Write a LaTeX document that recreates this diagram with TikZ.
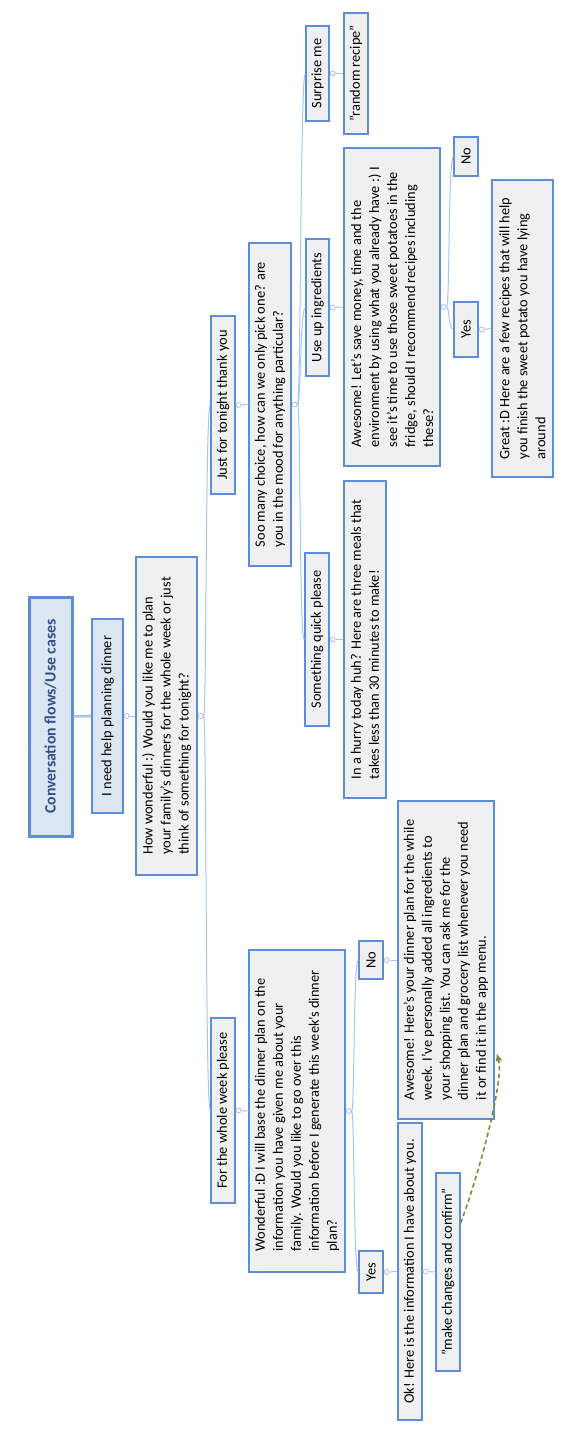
\documentclass[tikz,border=0pt]{standalone}
\usepackage{fontspec}
\setmainfont{Carlito}
\usetikzlibrary{calc,arrows.meta}
\definecolor{bordc}{RGB}{92,141,214}
\definecolor{linec}{RGB}{168,196,236}
\definecolor{grayf}{RGB}{240,240,240}
\definecolor{bluef}{RGB}{220,230,242}
\definecolor{rootc}{RGB}{49,80,135}
\definecolor{arrc}{RGB}{118,146,60}
\begin{document}
\begin{tikzpicture}[x=1pt,y=-1pt,
  box/.style={draw=bordc, line width=1.4pt, fill=grayf, rotate=90, inner sep=0pt,
    align=left, font=\fontsize{14.4}{18}\selectfont},
  bluebox/.style={box, fill=bluef},
  rootbox/.style={box, fill=bluef, line width=3pt, text=rootc,
    font=\bfseries\fontsize{15.8}{19}\selectfont},
  sz/.style 2 args={minimum width=#2, minimum height=#1},
  dot/.style={circle, draw=linec, fill=white, line width=0.8pt, inner sep=0pt, minimum size=5pt},
  conn/.style={draw=linec, line width=1pt},
  branch/.style={conn},
  backarrow/.style={draw=arrc, line width=1.6pt, dash pattern=on 4.5pt off 3pt,
    -{Latex[length=8pt,width=7pt]}}
  ]
\useasboundingbox[fill=white] (0,0) rectangle (571,1455);

% nodes (sz = horizontal extent, vertical extent in the picture)
\node[rootbox, sz={43pt}{239pt}] (root) at (50.5,716.5) {Conversation flows/Use cases};
\node[bluebox, sz={31pt}{194pt}] (need) at (107.5,716) {I need help planning dinner};
\node[box, sz={61pt}{318pt}] (wonder) at (166.5,716) {How wonderful :) Would you like me to plan\\your family's dinners for the whole week or just\\think of something for tonight?};

\node[box, sz={24pt}{178pt}] (tonight) at (223,405) {Just for tonight thank you};
\node[box, sz={42pt}{323pt}] (soo) at (270,404.5) {Soo many choice, how can we only pick one? are\\you in the mood for anything particular?};

\node[box, sz={23pt}{95pt}] (surprise) at (317.5,73.5) {Surprise me};
\node[box, sz={24pt}{121pt}] (random) at (356,73.5) {"random recipe"};
\node[box, sz={23pt}{137pt}] (useup) at (317.5,307.5) {Use up ingredients};
\node[box, sz={96pt}{318pt}] (awesA) at (392,307) {Awesome! Let's save money, time and the\\environment by using what you already have :) I\\see it's time to use those sweet potatoes in the\\fridge, should I recommend recipes including\\these?};
\node[box, sz={24pt}{39pt}] (noA) at (466,156.5) {No};
\node[box, sz={24pt}{55pt}] (yesA) at (466,329.5) {Yes};
\node[box, sz={61pt}{297pt}] (great) at (522.5,328.5) {Great :D Here are a few recipes that will help\\you finish the sweet potato you have lying\\around};
\node[box, sz={24pt}{173pt}] (quick) at (317,639.5) {Something quick please};
\node[box, sz={42pt}{317pt}] (hurry) at (365,639.5) {In a hurry today huh? Here are three meals that\\takes less than 30 minutes to make!};

\node[box, sz={24pt}{185pt}] (week) at (223,1110.5) {For the whole week please};
\node[box, sz={96pt}{322pt}] (wonderB) at (297,1111) {Wonderful :D I will base the dinner plan on the\\information you have given me about your\\family. Would you like to go over this\\information before I generate this week's dinner\\plan?};
\node[box, sz={24pt}{38pt}] (noB) at (371,960) {No};
\node[box, sz={96pt}{318pt}] (awesB) at (446,960) {Awesome! Here's your dinner plan for the while\\week. I've personally added all ingredients to\\your shopping list. You can ask me for the\\dinner plan and grocery list whenever you need\\it or find it in the app menu.};
\node[box, sz={24pt}{42pt}] (yesB) at (371,1272) {Yes};
\node[box, sz={24pt}{297pt}] (ok) at (410,1271.5) {Ok! Here is the information I have about you.};
\node[box, sz={24pt}{198pt}] (make) at (448,1272) {"make changes and confirm"};

% connectors
\draw[conn, line width=2.5pt] (root.south) -- (need.north);

\node[dot] (dneed) at ($(need.south)+(3,0)$) {};
\draw[conn] (need.south) -- (dneed) -- (wonder.north);

\node[dot] (dwonder) at ($(wonder.south)+(3,0)$) {};
\draw[conn] (wonder.south) -- (dwonder);
\draw[branch] (dwonder) .. controls +(6,0) and +(-5,0) .. (tonight.north);
\draw[branch] (dwonder) .. controls +(6,0) and +(-5,0) .. (week.north);

\node[dot] (dtonight) at ($(tonight.south)+(3,0)$) {};
\draw[conn] (tonight.south) -- (dtonight) -- (soo.north);

\node[dot] (dsoo) at ($(soo.south)+(3,0)$) {};
\draw[conn] (soo.south) -- (dsoo);
\draw[branch] (dsoo) .. controls +(6,0) and +(-5,0) .. (surprise.north);
\draw[branch] (dsoo) .. controls +(6,0) and +(-5,0) .. (useup.north);
\draw[branch] (dsoo) .. controls +(6,0) and +(-5,0) .. (quick.north);

\node[dot] (dsurprise) at ($(surprise.south)+(3,0)$) {};
\draw[conn] (surprise.south) -- (dsurprise) -- (random.north);
\node[dot] (duseup) at ($(useup.south)+(3,0)$) {};
\draw[conn] (useup.south) -- (duseup) -- (awesA.north);
\node[dot] (dquick) at ($(quick.south)+(3,0)$) {};
\draw[conn] (quick.south) -- (dquick) -- (hurry.north);

\node[dot] (dawesA) at ($(awesA.south)+(3,0)$) {};
\draw[conn] (awesA.south) -- (dawesA);
\draw[branch] (dawesA) .. controls +(6,0) and +(-5,0) .. (noA.north);
\draw[branch] (dawesA) .. controls +(6,0) and +(-5,0) .. (yesA.north);
\node[dot] (dyesA) at ($(yesA.south)+(3,0)$) {};
\draw[conn] (yesA.south) -- (dyesA) -- (great.north);

\node[dot] (dweek) at ($(week.south)+(3,0)$) {};
\draw[conn] (week.south) -- (dweek) -- (wonderB.north);

\node[dot] (dwonderB) at ($(wonderB.south)+(3,0)$) {};
\draw[conn] (wonderB.south) -- (dwonderB);
\draw[branch] (dwonderB) .. controls +(6,0) and +(-5,0) .. (noB.north);
\draw[branch] (dwonderB) .. controls +(6,0) and +(-5,0) .. (yesB.north);

\node[dot] (dnoB) at ($(noB.south)+(3,0)$) {};
\draw[conn] (noB.south) -- (dnoB) -- (awesB.north);
\node[dot] (dyesB) at ($(yesB.south)+(3,0)$) {};
\draw[conn] (yesB.south) -- (dyesB) -- (ok.north);
\node[dot] (dok) at ($(ok.south)+(3,0)$) {};
\draw[conn] (ok.south) -- (dok) -- (make.north);

% dashed back arrow
\coordinate (arrS) at ($(make.south)+(0,-49)$);
\coordinate (arrE) at ($(awesB.south)+(2,93)$);
\draw[backarrow] (arrS) .. controls +(22,-60) and +(7,25) .. (arrE);
\end{tikzpicture}
\end{document}
